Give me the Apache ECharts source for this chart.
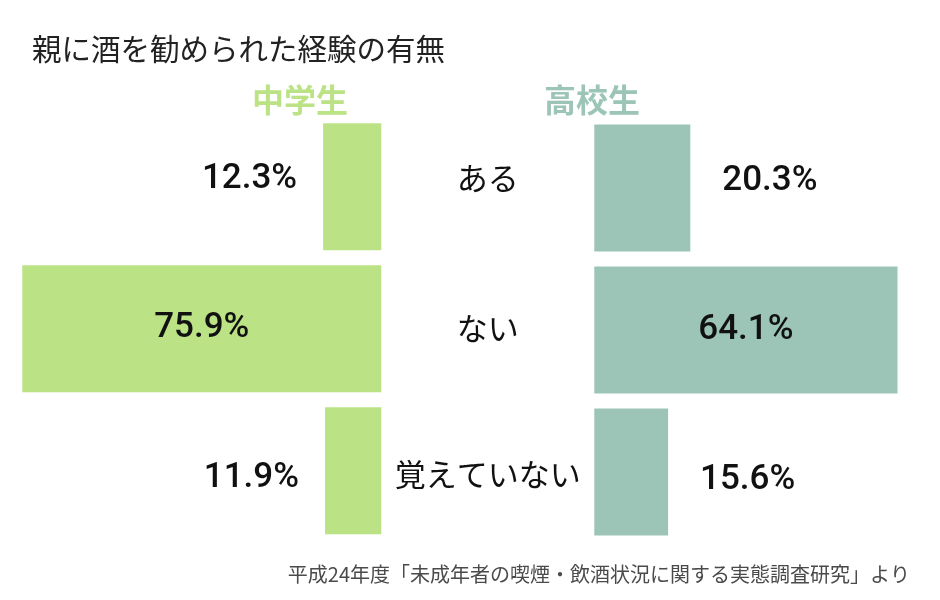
<!DOCTYPE html>
<html>
<head>
<meta charset="utf-8">
<script src="https://cdn.jsdelivr.net/npm/echarts@6/dist/echarts.min.js"></script>
<style>html,body{margin:0;padding:0;background:#fff}#c{width:940px;height:600px}</style>
</head>
<body>
<div id="c"></div>
<script>
// ---- data ----
const categories = ['ある', 'ない', '覚えていない'];
const juniorHigh = [12.3, 75.9, 11.9];   // 中学生
const seniorHigh = [20.3, 64.1, 15.6];   // 高校生
const groupNames = ['中学生', '高校生'];
const titleText = '親に酒を勧められた経験の有無';
const sourceText = '平成24年度「未成年者の喫煙・飲酒状況に関する実態調査研究」より';

// ---- styling ----
const GREEN = '#bbe386';
const TEAL = '#9cc5b8';
const NUM_FONT = 'Roboto, "Liberation Sans", sans-serif';
const JP_FONT = '"Noto Sans CJK JP", "Noto Sans", sans-serif';
const rowNudge = [-7, 0, 8];
const catRich = ['up', 'mid', 'down'];

function items(values, outsidePos, dist) {
  return values.map((v, i) => {
    const inside = v > 40;
    return {
      value: v,
      label: inside ? { position: 'inside' } :
        { position: outsidePos, distance: dist, offset: [0, rowNudge[i]] }
    };
  });
}

const labelBase = {
  show: true,
  formatter: p => p.value.toFixed(1) + '%',
  fontFamily: NUM_FONT,
  fontWeight: 500,
  fontSize: 35,
  color: '#111'
};

const chart = echarts.init(document.getElementById('c'), null, { renderer: 'canvas' });
chart.setOption({
  backgroundColor: '#fff',
  animation: false,
  title: [
    { text: titleText, left: 27, top: 28, textStyle: { fontFamily: JP_FONT, fontWeight: 'normal', fontSize: 29.5, lineHeight: 31, color: '#222' } },
    { text: groupNames[0], left: 247, top: 79, textStyle: { fontFamily: JP_FONT, fontWeight: 'bold', fontSize: 32, lineHeight: 32, color: GREEN } },
    { text: groupNames[1], left: 539, top: 79, textStyle: { fontFamily: JP_FONT, fontWeight: 'bold', fontSize: 32, lineHeight: 32, color: TEAL } },
    { text: sourceText, right: 25, top: 558, textStyle: { fontFamily: JP_FONT, fontWeight: 'normal', fontSize: 20, lineHeight: 22, color: '#4a4a4a' } }
  ],
  grid: [
    { left: 2.9, width: 378.4, top: 115.7, height: 426 },
    { left: 594.3, width: 331.1, top: 117, height: 426 }
  ],
  xAxis: [
    { gridIndex: 0, type: 'value', min: 0, max: 80, inverse: true, show: false, splitLine: { show: false } },
    { gridIndex: 1, type: 'value', min: 0, max: 70, show: false, splitLine: { show: false } }
  ],
  yAxis: [
    {
      gridIndex: 0, type: 'category', data: categories, inverse: true, position: 'right',
      axisLine: { show: false }, axisTick: { show: false },
      axisLabel: {
        margin: 106.5, align: 'center',
        formatter: (v, i) => '{' + catRich[i] + '|' + v + '}',
        rich: {
          up: { fontFamily: JP_FONT, fontSize: 31, color: '#111', padding: [0, 0, 16, 0] },
          mid: { fontFamily: JP_FONT, fontSize: 31, color: '#111', padding: [0, 0, 0, 0] },
          down: { fontFamily: JP_FONT, fontSize: 31, color: '#111', padding: [8, 0, 0, 0] }
        }
      }
    },
    {
      gridIndex: 1, type: 'category', data: categories, inverse: true, show: false
    }
  ],
  series: [
    {
      name: groupNames[0], type: 'bar', xAxisIndex: 0, yAxisIndex: 0,
      barWidth: 127, itemStyle: { color: GREEN },
      label: labelBase,
      data: items(juniorHigh, 'left', 26)
    },
    {
      name: groupNames[1], type: 'bar', xAxisIndex: 1, yAxisIndex: 1,
      barWidth: 127, itemStyle: { color: TEAL },
      label: labelBase,
      data: items(seniorHigh, 'right', 32)
    }
  ]
});
</script>
</body>
</html>
